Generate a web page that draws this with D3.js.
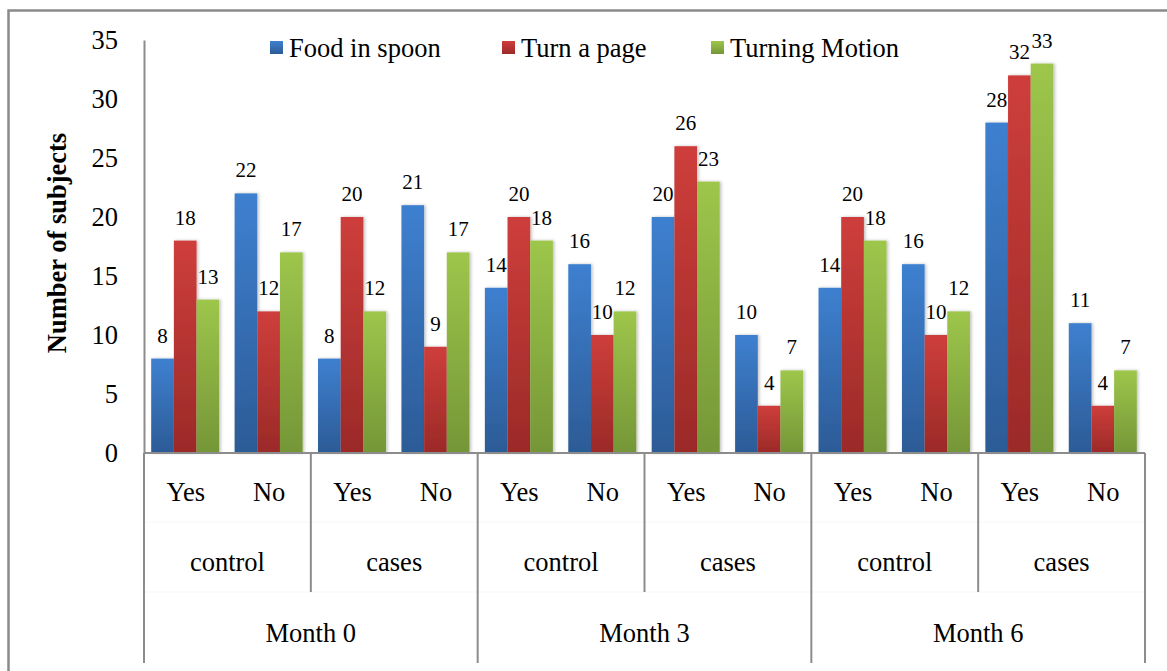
<!DOCTYPE html>
<html>
<head>
<meta charset="utf-8">
<script src="https://cdn.jsdelivr.net/npm/d3@7"></script>
<style>
    body { margin: 0; background: #fff; }
    svg { display: block; }
</style>
</head>
<body>
<svg id="chart" width="1167" height="671"></svg>
<script>
// chart data
const months = ["Month 0", "Month 3", "Month 6"];
const groups = ["control", "cases"];
const answers = ["Yes", "No"];
const seriesNames = ["Food in spoon", "Turn a page", "Turning Motion"];
const foodInSpoon = [8, 22, 8, 21, 14, 16, 20, 10, 14, 16, 28, 11];
const turnAPage = [18, 12, 20, 9, 20, 10, 26, 4, 20, 10, 32, 4];
const turningMotion = [13, 17, 12, 17, 18, 12, 23, 7, 18, 12, 33, 7];
const yTicks = [0, 5, 10, 15, 20, 25, 30, 35];

const colors = [
    { top: "#3e80d0", bottom: "#2c5b96" },
    { top: "#ce3e3b", bottom: "#9b2a28" },
    { top: "#9dc64b", bottom: "#759637" }
];

const serif = "'Liberation Serif', monospace";
const bigFont = 26.5, labelFont = 21;
const svg = d3.select("#chart");
const plotLeft = 144, plotRight = 1145, plotTop = 40, axisY = 453;

// flat list of categories, month > group > answer
const categories = [];
months.forEach(m => groups.forEach(g => answers.forEach(a => categories.push(`${m}|${g}|${a}`))));
const seriesValues = [foodInSpoon, turnAPage, turningMotion];

const x0 = d3.scaleBand().domain(categories).range([plotLeft, plotRight]);
const gap = 15.4;
const x1 = d3.scaleBand().domain(seriesNames).range([gap / 2 - 0.5, x0.bandwidth() - gap / 2 - 0.5]);
const y = d3.scaleLinear().domain([0, 35]).range([axisY, plotTop]);

const defs = svg.append("defs");
colors.forEach((c, i) => {
    const lg = defs.append("linearGradient")
        .attr("id", "grad" + i)
        .attr("x1", 0).attr("y1", 0).attr("x2", 0).attr("y2", 1);
    lg.append("stop").attr("offset", "0%").attr("stop-color", c.top);
    lg.append("stop").attr("offset", "100%").attr("stop-color", c.bottom);
});
const shadow = defs.append("filter").attr("id", "shadow")
    .attr("x", "-20%").attr("y", "-5%").attr("width", "150%").attr("height", "115%");
shadow.append("feDropShadow")
    .attr("dx", 1.5).attr("dy", 0).attr("stdDeviation", 1.5)
    .attr("flood-color", "#000").attr("flood-opacity", 0.25);

// outer chart frame (runs past the right/bottom edge)
svg.append("rect")
    .attr("x", 8.5).attr("y", 10.5)
    .attr("width", 1200).attr("height", 700)
    .attr("fill", "none")
    .attr("stroke", "#8a8a8a")
    .attr("stroke-width", 2.5);

// bars
const barData = [];
categories.forEach((cat, i) => {
    seriesNames.forEach((s, j) => barData.push({ cat, series: s, idx: j, value: seriesValues[j][i] }));
});

svg.append("g")
    .selectAll("rect")
    .data(barData)
    .join("rect")
    .attr("x", d => x0(d.cat) + x1(d.series))
    .attr("y", d => y(d.value))
    .attr("width", x1.bandwidth())
    .attr("height", d => y(0) - y(d.value))
    .attr("fill", d => `url(#grad${d.idx})`)
    .attr("filter", "url(#shadow)");

// value labels
svg.append("g")
    .selectAll("text")
    .data(barData)
    .join("text")
    .attr("x", d => x0(d.cat) + x1(d.series) + x1.bandwidth() / 2)
    .attr("y", d => y(d.value) - 16)
    .attr("text-anchor", "middle")
    .attr("font-size", labelFont)
    .attr("fill", "#000")
    .text(d => d.value);

// y axis
svg.append("g")
    .attr("transform", `translate(${plotLeft},0)`)
    .call(d3.axisLeft(y).tickValues(yTicks).tickSize(0).tickSizeOuter(0).tickPadding(26))
    .attr("font-size", bigFont)
    .call(g => g.select(".domain").attr("stroke", "#8c8c8c").attr("stroke-width", 2))
    .call(g => g.selectAll(".tick text").attr("fill", "#000"));

svg.append("text")
    .attr("transform", `translate(66, 243) rotate(-90)`)
    .attr("text-anchor", "middle")
    .attr("font-size", bigFont)
    .attr("font-weight", "bold")
    .text("Number of subjects");

// category axis: lines
const gridColor = "#8c8c8c";
const axisG = svg.append("g");
axisG.append("line")
    .attr("x1", plotLeft).attr("x2", plotRight)
    .attr("y1", axisY).attr("y2", axisY)
    .attr("stroke", gridColor).attr("stroke-width", 2);

// barely visible row separators
[522, 592].forEach(yy => {
    axisG.append("line")
        .attr("x1", plotLeft).attr("x2", plotRight)
        .attr("y1", yy).attr("y2", yy)
        .attr("stroke", "#f7f7f7").attr("stroke-width", 1);
});

const bw = x0.bandwidth();
for (let i = 0; i <= categories.length; i += 2) {
    const xx = plotLeft + i * bw;
    const isMonth = i % 4 === 0;
    axisG.append("line")
        .attr("x1", xx).attr("x2", xx)
        .attr("y1", axisY).attr("y2", isMonth ? 663 : 592)
        .attr("stroke", gridColor).attr("stroke-width", 2);
}

// category axis: labels
axisG.selectAll(".ans")
    .data(categories)
    .join("text")
    .attr("class", "ans")
    .attr("x", d => x0(d) + bw / 2)
    .attr("y", 501)
    .attr("text-anchor", "middle")
    .attr("font-size", bigFont)
    .text(d => d.split("|")[2]);

const groupKeys = [];
months.forEach(m => groups.forEach(g => groupKeys.push(`${m}|${g}`)));
axisG.selectAll(".grp")
    .data(groupKeys)
    .join("text")
    .attr("class", "grp")
    .attr("x", (d, i) => plotLeft + (i * 2 + 1) * bw)
    .attr("y", 571)
    .attr("text-anchor", "middle")
    .attr("font-size", bigFont)
    .text(d => d.split("|")[1]);

axisG.selectAll(".mon")
    .data(months)
    .join("text")
    .attr("class", "mon")
    .attr("x", (d, i) => plotLeft + (i * 4 + 2) * bw)
    .attr("y", 642)
    .attr("text-anchor", "middle")
    .attr("font-size", bigFont)
    .text(d => d);

// legend
const legendX = [270, 502, 711];
const legend = svg.append("g");
seriesNames.forEach((s, i) => {
    legend.append("rect")
        .attr("x", legendX[i]).attr("y", 41)
        .attr("width", 13).attr("height", 13)
        .attr("fill", `url(#grad${i})`);
    legend.append("text")
        .attr("x", legendX[i] + 19).attr("y", 57)
        .attr("font-size", bigFont)
        .text(s);
});

// serif everywhere, set as inline style so nothing overrides it
svg.selectAll("text").style("font-family", serif);
</script>
</body>
</html>
